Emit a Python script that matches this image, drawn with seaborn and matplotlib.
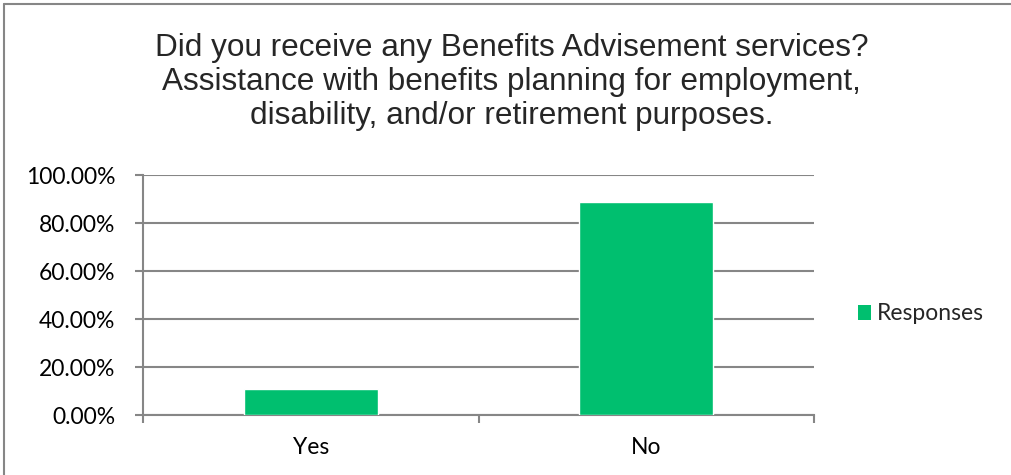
import matplotlib
matplotlib.use("Agg")
import matplotlib.pyplot as plt
from matplotlib.lines import Line2D
from matplotlib.patches import Patch
from matplotlib.ticker import FixedLocator, PercentFormatter
import seaborn as sns
import pandas as pd

title = ("Did you receive any Benefits Advisement services?\n"
         "Assistance with benefits planning for employment,\n"
         "disability, and/or retirement purposes.")
categories = ["Yes", "No"]
responses = [0.108, 0.886]
series_name = "Responses"
y_ticks = [0.0, 0.2, 0.4, 0.6, 0.8, 1.0]

df = pd.DataFrame({"answer": categories, "share": responses})

sns.set_theme(style="white")
plt.rcParams["font.family"] = ["Lato", "DejaVu Sans"]

bar_color = "#00BF6F"
grid_color = "#868686"
label_size = 16.5

fig = plt.figure(figsize=(10.11, 4.75), dpi=100)
ax = fig.add_axes([143 / 1011, 60 / 475, 671 / 1011, 240 / 475])

sns.barplot(data=df, x="answer", y="share", color=bar_color, width=0.4,
            saturation=1, ax=ax, zorder=3)

ax.set_xlim(-0.5, 1.5)
ax.set_ylim(0, 1.0)
ax.set_yticks(y_ticks)
ax.yaxis.set_major_formatter(PercentFormatter(1.0, decimals=2))
ax.yaxis.grid(True, color=grid_color, linewidth=1.5, zorder=0)
ax.set_axisbelow(True)

# category labels at centers, tick marks at category boundaries
ax.set_xticks(range(len(categories)))
ax.set_xticklabels(categories)
ax.xaxis.set_minor_locator(FixedLocator([-0.5, 0.5, 1.5]))
ax.tick_params(axis="x", which="major", length=0, pad=16, labelsize=label_size,
               colors="black")
ax.tick_params(axis="x", which="minor", length=6, width=1.5, color=grid_color,
               direction="out")
ax.tick_params(axis="y", length=6, width=1.5, color=grid_color, direction="out",
               pad=14, labelsize=label_size, labelcolor="black")
ax.tick_params(axis="both", bottom=True, left=True, which="both")

for side in ["top", "right"]:
    ax.spines[side].set_visible(False)
for side in ["left", "bottom"]:
    ax.spines[side].set_color(grid_color)
    ax.spines[side].set_linewidth(1.5)

ax.set_xlabel("")
ax.set_ylabel("")

fig.text(0.506, 1 - 82 / 475, title, ha="center", va="center", fontsize=22.7,
         family=["Liberation Sans", "DejaVu Sans"], linespacing=1.16)

handle = Patch(facecolor=bar_color, edgecolor="none")
fig.legend([handle], [series_name], loc="center left",
           bbox_to_anchor=(837 / 1011, 1 - 314 / 475), frameon=False,
           fontsize=label_size, handlelength=0.6, handleheight=0.6,
           handletextpad=0.25)

# outer chart frame (top and left edges)
fig.add_artist(Line2D([4 / 1011, 1.0], [1 - 4 / 475, 1 - 4 / 475],
                      transform=fig.transFigure, color=grid_color, linewidth=1.5))
fig.add_artist(Line2D([4 / 1011, 4 / 1011], [0.0, 1 - 4 / 475],
                      transform=fig.transFigure, color=grid_color, linewidth=1.5))

fig.savefig("out.png", dpi=100)
